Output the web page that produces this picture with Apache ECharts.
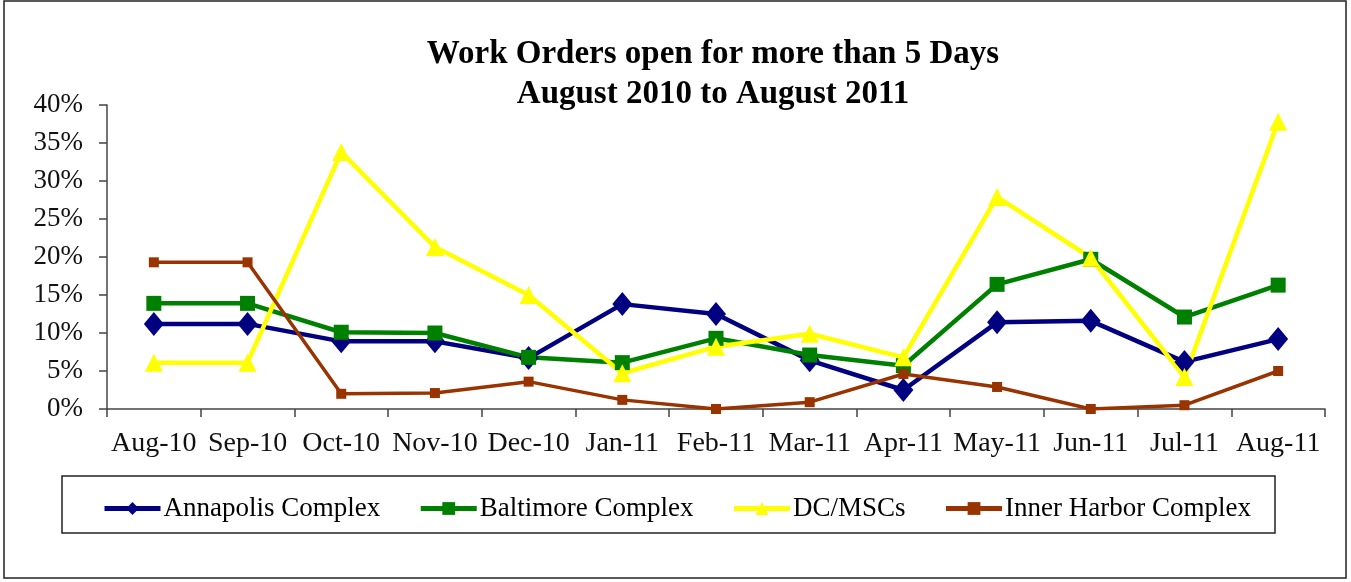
<!DOCTYPE html>
<html>
<head>
<meta charset="utf-8">
<script src="https://cdn.jsdelivr.net/npm/echarts@6/dist/echarts.min.js"></script>
<style>
html, body { margin: 0; padding: 0; background: #fff; }
#main { width: 1351px; height: 582px; }
</style>
</head>
<body>
<div id="main"></div>
<script>
// data (percent)
var months = ['Aug-10', 'Sep-10', 'Oct-10', 'Nov-10', 'Dec-10', 'Jan-11', 'Feb-11', 'Mar-11', 'Apr-11', 'May-11', 'Jun-11', 'Jul-11', 'Aug-11'];
var annapolis = [11.2, 11.2, 8.9, 8.9, 6.7, 13.8, 12.5, 6.4, 2.5, 11.4, 11.6, 6.2, 9.2];
var baltimore = [13.9, 13.9, 10.1, 10.0, 6.8, 6.1, 9.3, 7.1, 5.7, 16.4, 19.7, 12.1, 16.3];
var dcMscs = [6.1, 6.1, 33.8, 21.3, 15.0, 4.7, 8.2, 9.9, 6.8, 27.9, 19.9, 4.2, 37.8];
var innerHarbor = [19.3, 19.3, 2.0, 2.1, 3.6, 1.2, 0, 0.9, 4.6, 2.9, 0, 0.5, 5.0];

var chart = echarts.init(document.getElementById('main'));
var font = 'Liberation Serif';

function line(name, data, color, symbol, size, width) {
    return {
        name: name, type: 'line', data: data,
        symbol: symbol, symbolSize: size,
        itemStyle: { color: color },
        lineStyle: { color: color, width: width },
        emphasis: { disabled: true }
    };
}

chart.setOption({
    animation: false,
    title: {
        text: 'Work Orders open for more than 5 Days\nAugust 2010 to August 2011',
        left: 708, top: 29, textAlign: 'center',
        textStyle: { fontFamily: font, fontSize: 33, fontWeight: 'bold', color: '#000', lineHeight: 40 }
    },
    grid: { left: 107, right: 26, top: 105, bottom: 173 },
    xAxis: {
        type: 'category', data: months, boundaryGap: true,
        axisLine: { lineStyle: { color: '#444', width: 1.5 } },
        axisTick: { show: true, length: 8, lineStyle: { color: '#444', width: 1.5 } },
        axisLabel: { fontFamily: font, fontSize: 28, color: '#111', margin: 21, interval: 0 }
    },
    yAxis: {
        type: 'value', min: 0, max: 40, interval: 5,
        axisLine: { show: true, lineStyle: { color: '#444', width: 1.5 } },
        axisTick: { show: true, length: 8, lineStyle: { color: '#444', width: 1.5 } },
        splitLine: { show: false },
        axisLabel: { fontFamily: font, fontSize: 27, color: '#111', margin: 24, formatter: '{value}%' }
    },
    legend: {
        left: 97, top: 490, itemWidth: 56, itemHeight: 16, itemGap: 38,
        lineStyle: { width: 5 },
        textStyle: { fontFamily: font, fontSize: 27, color: '#000', padding: [0, 0, 0, -2] },
        data: ['Annapolis Complex', 'Baltimore Complex', 'DC/MSCs', 'Inner Harbor Complex']
    },
    graphic: [
        { type: 'rect', shape: { x: 4, y: 1, width: 1342, height: 577 }, style: { fill: null, stroke: '#222', lineWidth: 1.5 }, silent: true },
        { type: 'rect', shape: { x: 62, y: 476, width: 1213, height: 57 }, style: { fill: null, stroke: '#222', lineWidth: 1.5 }, silent: true }
    ],
    series: [
        line('Annapolis Complex', annapolis, '#000080', 'diamond', [20, 24], 4.5),
        line('Baltimore Complex', baltimore, '#008000', 'rect', 15, 4.5),
        line('DC/MSCs', dcMscs, '#ffff00', 'triangle', 18, 4.5),
        line('Inner Harbor Complex', innerHarbor, '#993300', 'rect', 10, 3.5)
    ]
});
</script>
</body>
</html>
